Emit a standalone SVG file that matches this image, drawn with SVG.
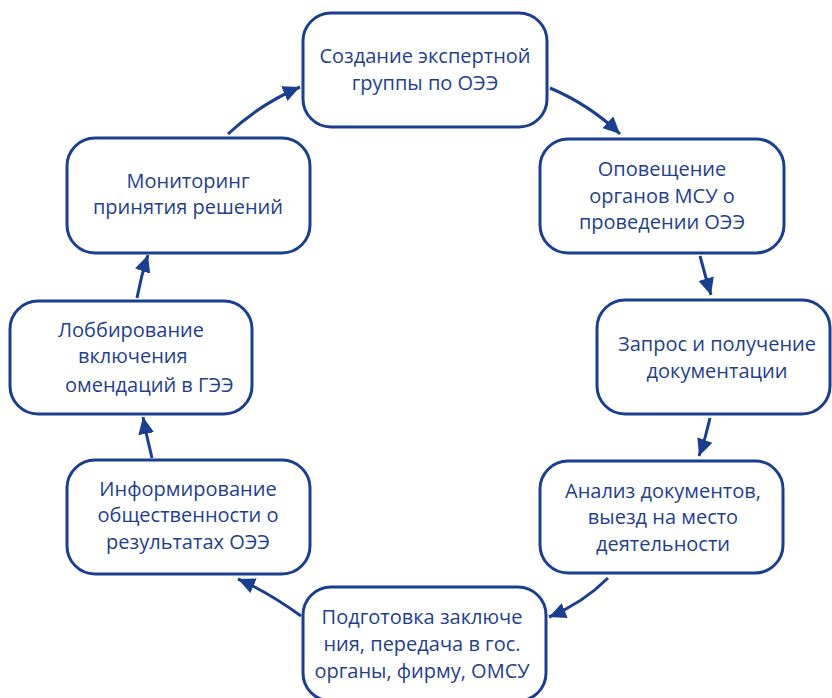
<svg xmlns="http://www.w3.org/2000/svg" width="832" height="698" viewBox="0 0 832 698">
<style>
.box{fill:#fff;stroke:#1a3f8e;stroke-width:3}
.t{font-family:"Open Sans","Liberation Sans",sans-serif;font-size:20px;fill:#1f3f8c;text-anchor:middle}
.ts{font-family:"Open Sans","Liberation Sans",sans-serif;font-size:20px;fill:#1f3f8c;text-anchor:start}
.c{fill:none;stroke:#1a3f8e;stroke-width:3;marker-end:url(#ah)}
</style>
<defs>
<marker id="ah" markerUnits="userSpaceOnUse" markerWidth="20" markerHeight="18" refX="17" refY="8" orient="auto">
<path d="M0,0 L17,8 L0,16 Z" fill="#1a3f8e"/>
</marker>
</defs>
<rect width="832" height="698" fill="#fff"/>
<g id="connectors">
<path class="c" d="M550,88 Q590,105 620,134"/>
<path class="c" d="M700,256 Q705,275 711,295"/>
<path class="c" d="M710,418 Q706,437 699,456"/>
<path class="c" d="M608,578 Q583,603 549,617"/>
<path class="c" d="M301,616 Q268,592 238,579"/>
<path class="c" d="M152,458 Q147,438 143,417"/>
<path class="c" d="M137,298 Q141,276 148,255"/>
<path class="c" d="M228,134 Q260,104 300,87"/>
</g>
<g id="n1">
<rect class="box" x="303" y="13" width="244" height="114" rx="28"/>
<text class="t" x="425" y="63">Создание экспертной</text>
<text class="t" x="425" y="90">группы по ОЭЭ</text>
</g>
<g id="n2">
<rect class="box" x="540" y="139" width="244" height="114" rx="28"/>
<text class="t" x="662" y="176">Оповещение</text>
<text class="t" x="662" y="203">органов МСУ о</text>
<text class="t" x="662" y="229">проведении ОЭЭ</text>
</g>
<g id="n3">
<rect class="box" x="597" y="300" width="233" height="114" rx="28"/>
<text class="t" x="717" y="351">Запрос и получение</text>
<text class="t" x="717" y="378">документации</text>
</g>
<g id="n4">
<rect class="box" x="540" y="461" width="243" height="112" rx="28"/>
<text class="t" x="663" y="498">Анализ документов,</text>
<text class="t" x="663" y="524">выезд на место</text>
<text class="t" x="663" y="551">деятельности</text>
</g>
<g id="n5">
<rect class="box" x="303" y="587" width="243" height="114" rx="28"/>
<text class="t" x="422" y="624">Подготовка заключе</text>
<text class="t" x="422" y="651">ния, передача в гос.</text>
<text class="t" x="422" y="678">органы, фирму, ОМСУ</text>
</g>
<g id="n6">
<rect class="box" x="67" y="460" width="243" height="114" rx="28"/>
<text class="t" x="188" y="496">Информирование</text>
<text class="t" x="188" y="522">общественности о</text>
<text class="t" x="188" y="549">результатах ОЭЭ</text>
</g>
<g id="n7">
<rect class="box" x="10" y="301" width="242" height="113" rx="28"/>
<text class="ts" x="58" y="337">Лоббирование</text>
<text class="ts" x="78" y="363">включения</text>
<text class="ts" x="65" y="392">омендаций в ГЭЭ</text>
</g>
<g id="n8">
<rect class="box" x="67" y="138" width="243" height="115" rx="28"/>
<text class="t" x="188" y="188">Мониторинг</text>
<text class="t" x="188" y="214">принятия решений</text>
</g>
</svg>
